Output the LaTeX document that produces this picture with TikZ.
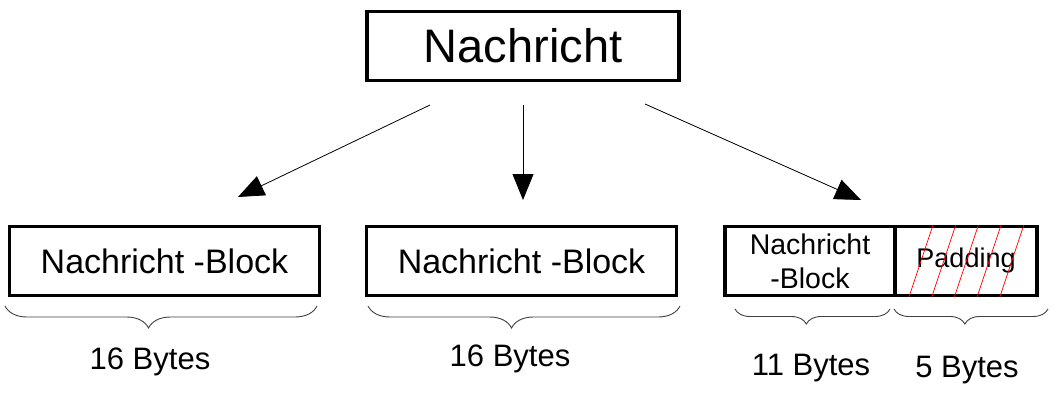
\documentclass[tikz,border=0pt]{standalone}
\usepackage{fontspec}
\setmainfont{Liberation Sans}
\usetikzlibrary{arrows.meta,decorations.pathreplacing}
\begin{document}
\begin{tikzpicture}[x=1pt,y=-1pt,
  box/.style={draw,line width=3.5pt,inner sep=0pt,align=center},
  conn/.style={line width=0.8pt,-{Triangle[length=26pt,width=21pt]}},
  hatch/.style={red,line width=0.7pt},
  bytebrace/.style={decorate,decoration={brace,mirror,amplitude=#1,aspect=0.46},line width=0.9pt,black!75},
  lbl/.style={font=\fontsize{31}{36}\selectfont}]
\useasboundingbox (0,0) rectangle (1056,406);
\node[box,minimum width=312pt,minimum height=69pt,font=\fontsize{47}{54}\selectfont] (top) at (523,46) {Nachricht};
\node[box,minimum width=310pt,minimum height=69pt,font=\fontsize{34}{40}\selectfont] (b1) at (164.5,261) {Nachricht -Block};
\node[box,minimum width=310pt,minimum height=69pt,font=\fontsize{34}{40}\selectfont] (b2) at (521.5,261) {Nachricht -Block};
\node[box,minimum width=170pt,minimum height=69pt,font=\fontsize{28.5}{34}\selectfont] (b3) at (810,261) {Nachricht\\-Block};
\node[box,minimum width=142pt,minimum height=69pt,font=\fontsize{27}{32}\selectfont] (pad) at (966,261) {Padding};
\begin{scope}
\clip (pad.south west) rectangle (pad.north east);
\foreach \k in {0,...,4}{
  \draw[hatch] ({909+\k*22.7},297) -- ({933+\k*22.7},225);
}
\end{scope}
\coordinate (s1) at (430,105);
\coordinate (e1) at (238,197);
\coordinate (s2) at (523,105);
\coordinate (e2) at (523,200);
\coordinate (s3) at (645,104);
\coordinate (e3) at (861,200);
\draw[conn] (s1) -- (e1);
\draw[conn] (s2) -- (e2);
\draw[conn] (s3) -- (e3);
\draw[bytebrace=22pt] (5,306) -- (317,306) coordinate[midway] (br1);
\draw[bytebrace=22pt] (368,306) -- (680,306) coordinate[midway] (br2);
\draw[bytebrace=15pt] (735,309) -- (890,309) coordinate[midway] (br3);
\draw[bytebrace=15pt] (894,309) -- (1048,309) coordinate[midway] (br4);
\node[lbl] (l1) at (150,362) {16 Bytes};
\node[lbl] (l2) at (510,359) {16 Bytes};
\node[lbl] (l3) at (811,368) {11 Bytes};
\node[lbl] (l4) at (967,370) {5 Bytes};
\end{tikzpicture}
\end{document}
